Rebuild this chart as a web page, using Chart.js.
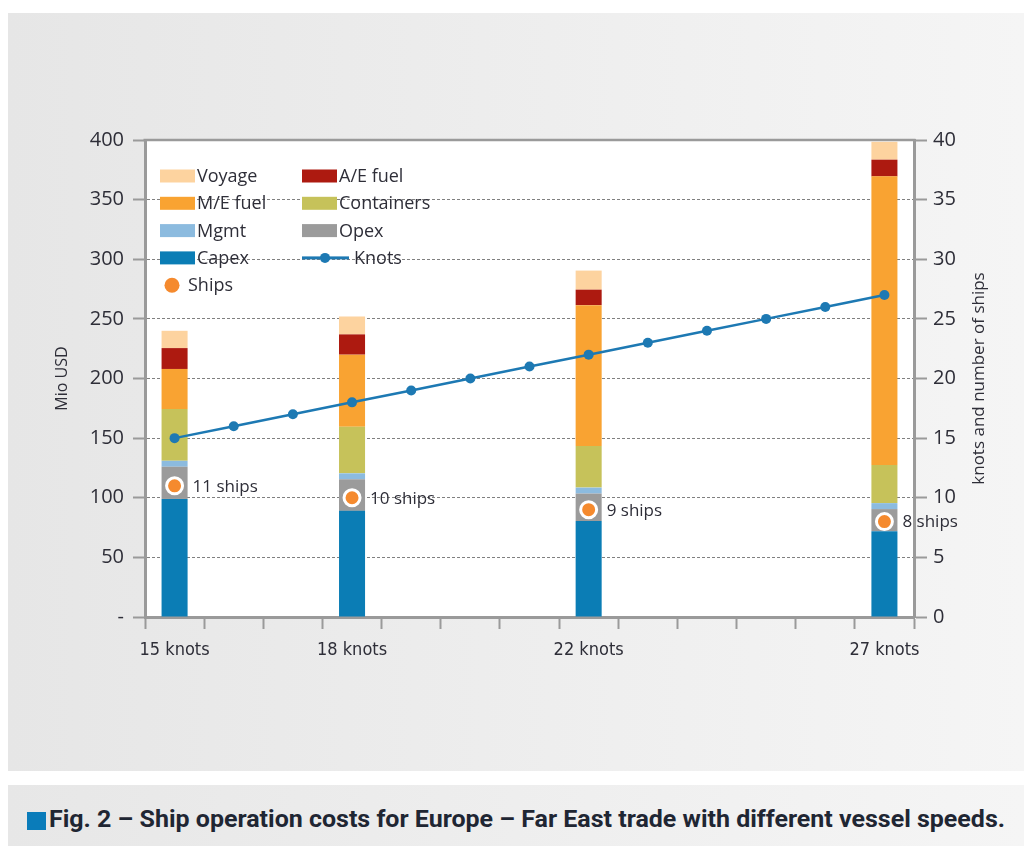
<!DOCTYPE html>
<html>
<head>
<meta charset="utf-8">
<title>Ship operation costs</title>
<script src="https://cdn.jsdelivr.net/npm/chart.js@4.4.1/dist/chart.umd.min.js"></script>
<style>
  html, body { margin: 0; padding: 0; background: #fff; width: 1024px; height: 846px; overflow: hidden; }
  #panel { position: absolute; left: 8px; top: 13px; width: 1016px; height: 758px;
           background: linear-gradient(to right, #e6e6e6, #f5f5f5); }
  #wrap { position: absolute; left: 0; top: 0; width: 1024px; height: 771px; }
  #caption { position: absolute; left: 8px; top: 785px; width: 1016px; height: 61px;
             background: linear-gradient(to right, #e7e7e7, #f5f5f5); }
  #capsq { position: absolute; left: 27px; top: 812px; width: 19px; height: 18px; background: #0a7cba; }
  #captext { position: absolute; left: 49px; top: 805px; white-space: nowrap; transform-origin: 0 0;
             font: bold 24px Roboto, "DejaVu Sans Condensed", sans-serif; color: #1f2633; }
</style>
</head>
<body>
<div id="panel"></div>
<div id="wrap"><canvas id="c" width="1024" height="771"></canvas></div>
<div id="caption"></div>
<div id="capsq"></div>
<div id="captext">Fig. 2 – Ship operation costs for Europe – Far East trade with different vessel speeds.</div>
<script>
// Vessel speeds on the category axis
const speeds = ['15 knots', '16 knots', '17 knots', '18 knots', '19 knots', '20 knots', '21 knots',
                '22 knots', '23 knots', '24 knots', '25 knots', '26 knots', '27 knots'];
// Speeds that carry a cost bar (and an x label)
const barSpeeds = ['15 knots', '18 knots', '22 knots', '27 knots'];

// Cost components, Mio USD, one value per bar speed
const capex      = [99, 89, 80.5, 72];
const opex       = [27, 26.5, 23, 18.5];
const mgmt       = [5, 5, 5, 5];
const containers = [43.5, 39, 35, 32];
const meFuel     = [33.5, 60.5, 118, 242];
const aeFuel     = [17.5, 17, 13, 14];
const voyage     = [14.5, 15, 16, 15];

// Speed line (right axis)
const knots = [15, 16, 17, 18, 19, 20, 21, 22, 23, 24, 25, 26, 27];
// Number of ships needed per bar speed (right axis)
const ships = [11, 10, 9, 8];

// Left axis: Mio USD
const leftMin = 0, leftMax = 400, leftStep = 50;
// Right axis: knots and number of ships
const rightMin = 0, rightMax = 40, rightStep = 5;

const SANS = '"Open Sans", "Liberation Sans", sans-serif';
const NARROW = '"Liberation Sans Narrow", "DejaVu Sans Condensed", sans-serif';
const TEXT = '#2e2e38';
const AXIS = '#9a9a9a';

function spread(vals) {
  return speeds.map(s => {
    const i = barSpeeds.indexOf(s);
    return i < 0 ? null : vals[i];
  });
}

const barStyle = { type: 'bar', yAxisID: 'y', stack: 'cost', order: 2,
                   barPercentage: 0.44, categoryPercentage: 1.0, borderWidth: 0 };

const datasets = [
  Object.assign({ label: 'Capex',      data: spread(capex),      backgroundColor: '#0b7db5' }, barStyle),
  Object.assign({ label: 'Opex',       data: spread(opex),       backgroundColor: '#9b9b9b' }, barStyle),
  Object.assign({ label: 'Mgmt',       data: spread(mgmt),       backgroundColor: '#8cbbdf' }, barStyle),
  Object.assign({ label: 'Containers', data: spread(containers), backgroundColor: '#c6c25a' }, barStyle),
  Object.assign({ label: 'M/E fuel',   data: spread(meFuel),     backgroundColor: '#f9a332' }, barStyle),
  Object.assign({ label: 'A/E fuel',   data: spread(aeFuel),     backgroundColor: '#ad1a10' }, barStyle),
  Object.assign({ label: 'Voyage',     data: spread(voyage),     backgroundColor: '#fdd39f' }, barStyle),
  { type: 'line', label: 'Knots', data: knots, yAxisID: 'y1', order: 1,
    borderColor: '#1d79b3', backgroundColor: '#1d79b3', borderWidth: 2.5,
    pointRadius: 5, pointBackgroundColor: '#1d79b3', pointBorderWidth: 0, pointHoverRadius: 5 },
  { type: 'line', label: 'Ships', data: spread(ships), yAxisID: 'y1', order: 0, showLine: false,
    pointRadius: 8, pointBackgroundColor: '#f58a2e', pointBorderColor: '#ffffff', pointBorderWidth: 3,
    pointHoverRadius: 8 }
];

// Two-column legend, read row by row
const legendRows = [
  ['Voyage', 'A/E fuel'],
  ['M/E fuel', 'Containers'],
  ['Mgmt', 'Opex'],
  ['Capex', 'Knots'],
  ['Ships', null]
];

const decorations = {
  id: 'decorations',
  beforeDraw(chart) {
    const { ctx, chartArea: a } = chart;
    ctx.save();
    ctx.fillStyle = '#ffffff';
    ctx.fillRect(a.left, a.top, a.right - a.left, a.bottom - a.top);
    ctx.restore();
  },
  afterDraw(chart) {
    const { ctx, chartArea: a } = chart;
    ctx.save();
    ctx.setLineDash([]);

    // top frame
    ctx.fillStyle = AXIS;
    ctx.fillRect(a.left - 1.5, a.top - 1.25, a.right - a.left + 3, 2.5);

    // axis titles
    ctx.fillStyle = TEXT;
    ctx.textAlign = 'center';
    ctx.textBaseline = 'middle';
    const midY = (a.top + a.bottom) / 2;
    ctx.save();
    ctx.translate(62, midY);
    ctx.rotate(-Math.PI / 2);
    ctx.font = '16px ' + SANS;
    ctx.fillText('Mio USD', 0, 0);
    ctx.restore();
    ctx.save();
    ctx.translate(979, midY);
    ctx.rotate(-Math.PI / 2);
    ctx.font = '17px ' + SANS;
    ctx.fillText('knots and number of ships', 0, 0);
    ctx.restore();

    // legend
    const colX = [160, 302];
    const rowY0 = 176, rowStep = 27.3;
    ctx.font = '18px ' + SANS;
    ctx.textAlign = 'left';
    legendRows.forEach((row, r) => {
      const y = rowY0 + r * rowStep;
      row.forEach((name, c) => {
        if (!name) return;
        const ds = chart.data.datasets.find(d => d.label === name);
        const x = colX[c];
        let tx;
        if (ds.type === 'bar') {
          ctx.fillStyle = ds.backgroundColor;
          ctx.fillRect(x, y - 6.5, 35, 13);
          tx = x + 37;
        } else if (ds.showLine === false) {
          ctx.fillStyle = ds.pointBackgroundColor;
          ctx.beginPath();
          ctx.arc(x + 12, y, 7.5, 0, Math.PI * 2);
          ctx.fill();
          tx = x + 28;
        } else {
          // line sample with its marker
          ctx.fillStyle = '#1d79b3';
          ctx.fillRect(x, y - 1.5, 47, 3);
          ctx.beginPath();
          ctx.arc(x + 23, y, 5, 0, Math.PI * 2);
          ctx.fill();
          tx = x + 52;
        }
        ctx.fillStyle = TEXT;
        ctx.fillText(name, tx, y + 1);
      });
    });

    // ship count labels beside the markers
    const idx = chart.data.datasets.findIndex(d => d.label === 'Ships');
    const meta = chart.getDatasetMeta(idx);
    ctx.font = '17px ' + SANS;
    ctx.fillStyle = TEXT;
    ctx.textBaseline = 'middle';
    meta.data.forEach((pt, i) => {
      const v = chart.data.datasets[idx].data[i];
      if (v === null || v === undefined) return;
      ctx.fillText(v + ' ships', pt.x + 18, pt.y + 1);
    });

    ctx.restore();
  }
};

new Chart(document.getElementById('c'), {
  data: { labels: speeds, datasets },
  options: {
    responsive: false,
    animation: false,
    events: [],
    layout: { padding: { top: 140, left: 0, right: 0, bottom: 0 } },
    plugins: { legend: { display: false }, tooltip: { enabled: false } },
    scales: {
      x: {
        type: 'category',
        stacked: true,
        offset: true,
        grid: { offset: true, drawOnChartArea: false, drawTicks: true, tickLength: 12,
                tickColor: AXIS, tickWidth: 2 },
        border: { display: true, color: AXIS, width: 3 },
        ticks: {
          autoSkip: false, maxRotation: 0, minRotation: 0, padding: 11, color: TEXT,
          font: { family: NARROW, size: 18 },
          callback(v, i) { const l = speeds[i]; return barSpeeds.includes(l) ? l : ''; }
        },
        afterFit(s) { s.height = 154; }
      },
      y: {
        position: 'left',
        stacked: true,
        min: leftMin, max: leftMax,
        grid: {
          color: c => (c.tick && (c.tick.value === leftMin || c.tick.value === leftMax)) ? 'rgba(0,0,0,0)' : '#808080',
          lineWidth: 1, drawTicks: true, tickLength: 12, tickColor: AXIS, tickWidth: 2, tickBorderDash: []
        },
        border: { display: true, color: AXIS, width: 3, dash: [3, 2] },
        ticks: {
          stepSize: leftStep, padding: 9, color: TEXT, font: { family: SANS, size: 20 },
          callback: v => (v === 0 ? '-' : v)
        },
        afterFit(s) { s.width = 145; }
      },
      y1: {
        position: 'right',
        min: rightMin, max: rightMax,
        grid: { drawOnChartArea: false, drawTicks: true, tickLength: 13, tickColor: AXIS, tickWidth: 2 },
        border: { display: true, color: AXIS, width: 3 },
        ticks: { stepSize: rightStep, padding: 6, color: TEXT, font: { family: SANS, size: 20 } },
        afterFit(s) { s.width = 110; }
      }
    }
  },
  plugins: [decorations]
});

// Fit the caption line to its box width
function fitCaption() {
  const el = document.getElementById('captext');
  el.style.transform = 'none';
  const w = el.getBoundingClientRect().width;
  if (w > 0) el.style.transform = 'scaleX(' + (956 / w) + ')';
}
fitCaption();
if (document.fonts && document.fonts.ready) document.fonts.ready.then(fitCaption);
</script>
</body>
</html>
